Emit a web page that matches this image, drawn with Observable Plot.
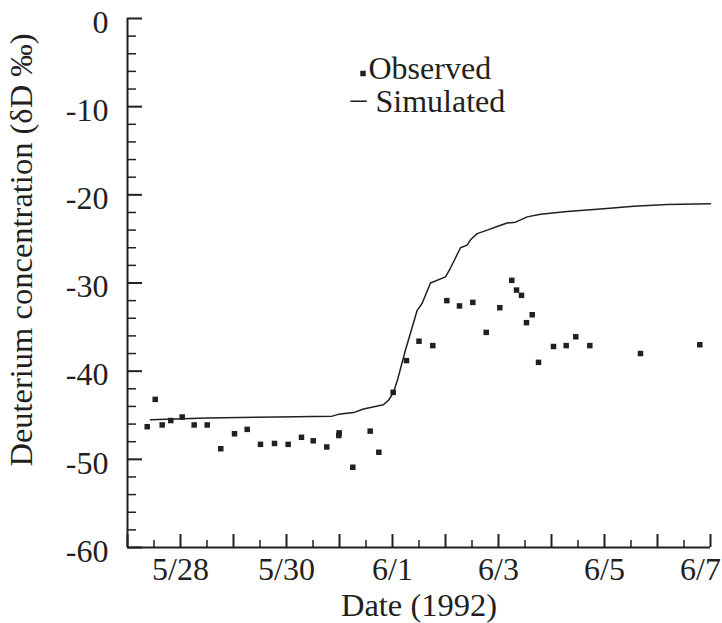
<!DOCTYPE html>
<html>
<head>
<meta charset="utf-8">
<script src="https://cdn.jsdelivr.net/npm/d3@7"></script>
<script src="https://cdn.jsdelivr.net/npm/@observablehq/plot@0.6"></script>
<style>
  html, body { margin: 0; padding: 0; background: #fff; }
  #chart { width: 722px; height: 623px; }
  #chart svg text { font-family: "Liberation Serif", "Times New Roman", serif; }
</style>
</head>
<body>
<div id="chart"></div>
<script>
// Days elapsed since 5/27/1992 (0 = 5/27, 11 = 6/7)
const simDay = [0.434, 1.504, 2.825, 3.862, 3.98, 4.264, 4.453, 4.83, 4.925, 5.019, 5.094, 5.245, 5.466, 5.56, 5.717, 6.0, 6.094, 6.283, 6.409, 6.472, 6.598, 6.787, 6.975, 7.164, 7.321, 7.542, 7.792, 8.296, 8.925, 9.553, 10.183, 11.0];
const simValue = [-45.5, -45.3, -45.2, -45.1, -44.9, -44.7, -44.3, -43.8, -43.3, -42.4, -41.0, -37.6, -33.1, -32.3, -30.0, -29.3, -28.3, -26.0, -25.7, -25.1, -24.4, -24.0, -23.6, -23.2, -23.1, -22.5, -22.2, -21.9, -21.6, -21.3, -21.1, -21.0];

const obsDay = [0.372, 0.523, 0.655, 0.817, 1.032, 1.258, 1.504, 1.760, 2.019, 2.258, 2.509, 2.774, 3.032, 3.283, 3.504, 3.760, 3.994, 3.987, 4.251, 4.579, 4.742, 5.013, 5.264, 5.5, 5.760, 6.025, 6.264, 6.515, 6.768, 7.025, 7.251, 7.340, 7.434, 7.528, 7.636, 7.755, 8.038, 8.277, 8.458, 8.723, 9.679, 10.798];
const obsValue = [-46.3, -43.2, -46.1, -45.6, -45.2, -46.1, -46.1, -48.8, -47.1, -46.6, -48.3, -48.2, -48.3, -47.5, -47.9, -48.6, -47.0, -47.3, -50.9, -46.8, -49.2, -42.4, -38.8, -36.6, -37.1, -32.0, -32.6, -32.2, -35.6, -32.8, -29.7, -30.8, -31.4, -34.5, -33.6, -39.0, -37.2, -37.1, -36.1, -37.1, -38.0, -37.0];

const xLabelTicks = [1, 3, 5, 7, 9, 11];
const xLabels = ["5/28", "5/30", "6/1", "6/3", "6/5", "6/7"];
const xMajorTicks = d3.range(0, 12, 1);
const xMinorTicks = d3.range(0.5, 11, 1);
const yLabelTicks = [0, -10, -20, -30, -40, -50, -60];
const yLabels = ["0", "-10", "-20", "-30", "-40", "-50", "-60"];
const yMinorTicks = d3.range(-58, 0, 2).filter(v => v % 10 !== 0);

const xTitle = "Date (1992)";
const yTitle = "Deuterium concentration (\u03B4D \u2030)";
const legendNames = ["Observed", "Simulated"];

const sim = simDay.map((d, i) => ({day: d, value: simValue[i]}));
const obs = obsDay.map((d, i) => ({day: d, value: obsValue[i]}));

const ink = "#231f20";
const font = "Liberation Serif";
const lastTick = xLabelTicks[xLabelTicks.length - 1];
const tickFont = 32;
const titleFont = 32.5;

const chart = Plot.plot({
  width: 722,
  height: 623,
  marginLeft: 127,
  marginRight: 12,
  marginTop: 18,
  marginBottom: 76,
  style: {fontFamily: font, fontSize: "30px", color: ink, background: "#fff", overflow: "visible"},
  x: {domain: [0, 11]},
  y: {domain: [-60, 0]},
  marks: [
    // tick marks (inward)
    Plot.axisX({ticks: xMajorTicks, tickSize: -13, tickFormat: () => "", label: null, stroke: ink, strokeWidth: 2}),
    Plot.axisX({ticks: xMinorTicks, tickSize: -7, tickFormat: () => "", label: null, stroke: ink, strokeWidth: 1.5}),
    Plot.axisY({ticks: yLabelTicks, tickSize: -15, tickFormat: () => "", label: null, stroke: ink, strokeWidth: 2}),
    Plot.axisY({ticks: yMinorTicks, tickSize: -9, tickFormat: () => "", label: null, stroke: ink, strokeWidth: 1.5}),
    // tick labels
    Plot.axisX({ticks: xLabelTicks.slice(0, -1), tickSize: 0, tickPadding: 10, tickFormat: d => xLabels[xLabelTicks.indexOf(d)], label: null, fill: ink, fontSize: tickFont, fontFamily: font, fontVariant: "normal"}),
    Plot.axisX({ticks: [lastTick], tickSize: 0, tickPadding: 10, tickFormat: d => xLabels[xLabelTicks.indexOf(d)], label: null, fill: ink, fontSize: tickFont, fontFamily: font, fontVariant: "normal", dx: -10}),
    Plot.axisY({ticks: yLabelTicks, tickSize: 0, tickPadding: 19, tickFormat: d => yLabels[yLabelTicks.indexOf(d)], label: null, fill: ink, fontSize: tickFont, fontFamily: font, fontVariant: "normal", dy: 4}),
    // axis lines
    Plot.ruleX([0], {stroke: ink, strokeWidth: 2}),
    Plot.ruleY([-60], {stroke: ink, strokeWidth: 2}),
    // data
    Plot.line(sim, {x: "day", y: "value", stroke: ink, strokeWidth: 1.5}),
    Plot.dot(obs, {x: "day", y: "value", symbol: "square", r: 3.1, fill: ink, stroke: null}),
    // axis titles
    Plot.text([xTitle], {frameAnchor: "bottom", dy: 58, textAnchor: "middle", lineAnchor: "middle", fontSize: titleFont, fontFamily: font, fill: ink}),
    Plot.text([yTitle], {frameAnchor: "left", rotate: -90, dx: -106, dy: -33, textAnchor: "middle", lineAnchor: "middle", fontSize: titleFont, fontFamily: font, fill: ink}),
    // legend
    Plot.dot([0], {frameAnchor: "top-left", dx: 235.5, dy: 55, symbol: "square", r: 3.1, fill: ink, stroke: null}),
    Plot.text([legendNames[0]], {frameAnchor: "top-left", dx: 241, dy: 50, textAnchor: "start", lineAnchor: "middle", fontSize: 32, fontFamily: font, fill: ink}),
    Plot.text(["\u2013"], {frameAnchor: "top-left", dx: 223, dy: 80, textAnchor: "start", lineAnchor: "middle", fontSize: 32, fontFamily: font, fill: ink}),
    Plot.text([legendNames[1]], {frameAnchor: "top-left", dx: 248, dy: 83, textAnchor: "start", lineAnchor: "middle", fontSize: 32, fontFamily: font, fill: ink})
  ]
});
document.getElementById("chart").appendChild(chart);
</script>
</body>
</html>
